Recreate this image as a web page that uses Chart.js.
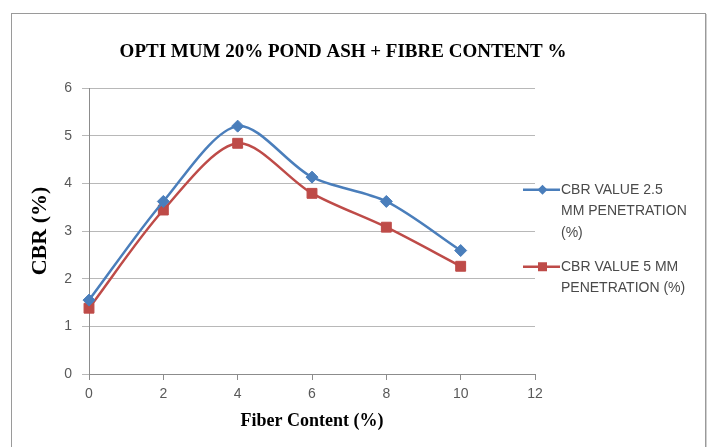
<!DOCTYPE html>
<html>
<head>
<meta charset="utf-8">
<script src="https://cdn.jsdelivr.net/npm/chart.js@4/dist/chart.umd.min.js"></script>
<style>
  html, body { margin: 0; padding: 0; background: #fff; }
  #wrap { position: relative; width: 710px; height: 447px; overflow: hidden; }
  #frame { position: absolute; left: 11px; top: 13px; width: 693px; height: 450px; border: 1px solid #9a9a9a; box-shadow: 1px 1px 0 #d0d0d0; }
  canvas { position: absolute; left: 0; top: 0; }
</style>
</head>
<body>
<div id="wrap">
  <div id="frame"></div>
  <canvas id="chart" width="710" height="447"></canvas>
</div>
<script>
/* ── data ── */
const fiberContent = [0, 2, 4, 6, 8, 10];
const cbr25 = [1.55, 3.62, 5.2, 4.13, 3.62, 2.59];
const cbr5  = [1.38, 3.44, 4.84, 3.79, 3.08, 2.26];
const seriesLabels = [
  ['CBR VALUE 2.5', 'MM PENETRATION', '(%)'],
  ['CBR VALUE 5 MM', 'PENETRATION (%)'],
];
const chartTitle = 'OPTI MUM 20% POND ASH + FIBRE CONTENT %';
const xTitle = 'Fiber Content (%)';
const yTitle = 'CBR (%)';

const BLUE = '#4A7EBB';
const RED  = '#BE4B48';
const SERIF = '"Liberation Serif", "Times New Roman", serif';
const SANS  = '"Liberation Sans", Arial, sans-serif';

const pts = arr => fiberContent.map((x, i) => ({ x, y: arr[i] }));

/* title + multi-line legend drawn on the canvas */
const extras = {
  id: 'extras',
  afterDraw(chart) {
    const { ctx, chartArea: a } = chart;
    ctx.save();
    ctx.fillStyle = '#000';
    ctx.font = 'bold 19px ' + SERIF;
    ctx.textAlign = 'center';
    ctx.textBaseline = 'middle';
    ctx.fillText(chartTitle, 343, 52);

    const lh = 21.5, gap = 12.5;
    const nLines = seriesLabels.reduce((s, l) => s + l.length, 0);
    const blockH = nLines * lh + gap * (seriesLabels.length - 1);
    let y = (a.top + a.bottom) / 2 + 8 - blockH / 2 + lh / 2;
    const x0 = a.right - 12, x1 = a.right + 25, mx = (x0 + x1) / 2 + 1;
    ctx.textAlign = 'left';
    ctx.font = '14px ' + SANS;
    chart.data.datasets.forEach((ds, i) => {
      ctx.strokeStyle = ds.borderColor;
      ctx.lineWidth = 2.5;
      ctx.beginPath(); ctx.moveTo(x0, y); ctx.lineTo(x1, y); ctx.stroke();
      ctx.fillStyle = ds.borderColor;
      ctx.beginPath();
      if (ds.pointStyle === 'rect') {
        ctx.rect(mx - 4.5, y - 4.5, 9, 9);
      } else {
        ctx.moveTo(mx, y - 5); ctx.lineTo(mx + 5, y); ctx.lineTo(mx, y + 5); ctx.lineTo(mx - 5, y);
        ctx.closePath();
      }
      ctx.fill();
      ctx.fillStyle = '#4a4a4a';
      seriesLabels[i].forEach((t, j) => ctx.fillText(t, x1 + 1, y + j * lh));
      y += seriesLabels[i].length * lh + gap;
    });
    ctx.restore();
  }
};

new Chart(document.getElementById('chart'), {
  type: 'line',
  data: {
    datasets: [
      {
        label: seriesLabels[0].join(' '),
        data: pts(cbr25),
        borderColor: BLUE, backgroundColor: BLUE,
        borderWidth: 2.5, tension: 0.3, clip: false,
        pointStyle: 'rectRot', pointRadius: 6, pointBorderWidth: 1,
      },
      {
        label: seriesLabels[1].join(' '),
        data: pts(cbr5),
        borderColor: RED, backgroundColor: RED,
        borderWidth: 2.5, tension: 0.3, clip: false,
        pointStyle: 'rect', pointRadius: 7, pointBorderWidth: 1,
      },
    ],
  },
  options: {
    responsive: false,
    animation: false,
    layout: { padding: { left: 20, top: 88, right: 175, bottom: 13 } },
    plugins: { legend: { display: false }, tooltip: { enabled: false } },
    scales: {
      x: {
        type: 'linear', min: 0, max: 12,
        ticks: { stepSize: 2, autoSkip: false, maxRotation: 0, padding: 6, color: '#595959', font: { family: SANS, size: 14 } },
        grid: { drawOnChartArea: false, tickLength: 6, color: '#8c8c8c' },
        border: { color: '#8c8c8c' },
        title: { display: true, text: xTitle, color: '#000', font: { family: SERIF, size: 18, weight: 'bold' }, padding: { top: 0, bottom: 2 } },
        afterFit: s => { s.height = 60; },
      },
      y: {
        min: 0, max: 6,
        ticks: { stepSize: 1, padding: 10, color: '#595959', font: { family: SANS, size: 14 } },
        grid: { color: '#b8b8b8', tickLength: 7 },
        border: { color: '#8c8c8c' },
        title: { display: true, text: yTitle, color: '#000', font: { family: SERIF, size: 22, weight: 'bold' }, padding: { top: 7, bottom: 0 } },
        afterFit: s => { s.width = 69; },
      },
    },
  },
  plugins: [extras],
});
</script>
</body>
</html>
